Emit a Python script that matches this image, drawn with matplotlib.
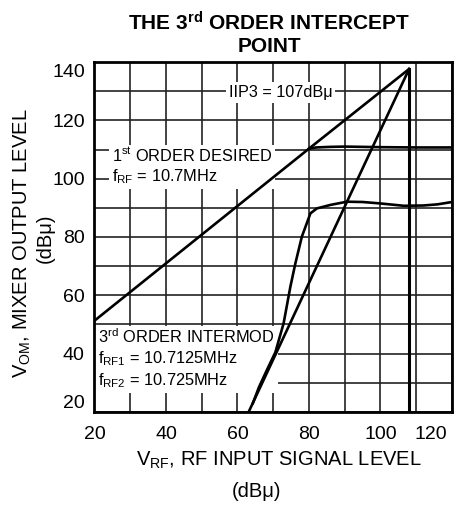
import matplotlib
matplotlib.use('Agg')
import matplotlib.pyplot as plt
import matplotlib.transforms as mtransforms
from matplotlib.ticker import MultipleLocator

plt.rcParams['font.family'] = ['Liberation Sans', 'DejaVu Sans']
plt.rcParams['mathtext.fontset'] = 'custom'
plt.rcParams['mathtext.rm'] = 'Liberation Sans'
plt.rcParams['mathtext.bf'] = 'Liberation Sans:bold'
plt.rcParams['mathtext.it'] = 'Liberation Sans:italic'

# 1st order desired output (measured)
desired_x = [20, 80, 82, 86, 90, 100, 110, 120]
desired_y = [51.3, 110.3, 110.7, 110.9, 111.0, 110.8, 110.7, 110.7]

# 3rd order intermod output (measured)
intermod_x = [64.3, 66, 68, 70.6, 72.9, 74.8, 76.2, 78.0, 80.4, 82.2, 86, 90.6, 95, 100, 106.5, 112, 116, 120]
intermod_y = [23.0, 28.5, 33.8, 40.5, 50.4, 63.0, 71.0, 80.1, 88.1, 89.8, 91.0, 92.1, 92.0, 91.5, 90.7, 90.8, 91.2, 92.0]

# extrapolated lines meeting at the intercept point
iip3_x = 108
iip3_y = 137.6
ext1_x = [80, iip3_x]
ext1_y = [110.3, iip3_y]
ext3_x = [62.2, iip3_x]
ext3_y = [17.6, iip3_y]

x_ticks = [20, 40, 60, 80, 100, 120]
y_ticks = [20, 40, 60, 80, 100, 120, 140]

fig = plt.figure(figsize=(4.6, 5.07), dpi=100)
ax = fig.add_axes([0.2054, 0.1874, 0.7772, 0.6903])

ax.set_xlim(20, 120)
ax.set_ylim(20, 140)
ax.set_xticks(x_ticks)
ax.set_yticks(y_ticks)
ax.xaxis.set_minor_locator(MultipleLocator(10))
ax.yaxis.set_minor_locator(MultipleLocator(10))
ax.grid(which='both', color='#222222', linewidth=1.2, zorder=0)
ax.set_axisbelow(True)
ax.tick_params(which='both', length=0, labelsize=14)
ax.tick_params(axis='x', pad=10)
ax.tick_params(axis='y', pad=7)
for s in ax.spines.values():
    s.set_linewidth(2.0)

# end labels are tucked inside the frame
xl = ax.get_xticklabels()
xl[-1].set_horizontalalignment('right')
xl[-1].set_transform(xl[-1].get_transform() + mtransforms.ScaledTranslation(-5 / 100, 0, fig.dpi_scale_trans))
yl = ax.get_yticklabels()
yl[0].set_verticalalignment('bottom')
yl[-1].set_verticalalignment('top')
yl[-1].set_transform(yl[-1].get_transform() + mtransforms.ScaledTranslation(0, -2 / 100, fig.dpi_scale_trans))

lw = 1.9
ax.plot(desired_x, desired_y, color='black', lw=lw, zorder=3)
ax.plot(intermod_x, intermod_y, color='black', lw=lw, zorder=3)
ax.plot(ext1_x, ext1_y, color='black', lw=lw, zorder=3)
ax.plot(ext3_x, ext3_y, color='black', lw=lw, zorder=3)
ax.plot([iip3_x, iip3_x], [18, iip3_y], color='black', lw=2.2, zorder=3)

box = dict(facecolor='white', edgecolor='none', pad=2)
ax.text(72, 129.5, 'IIP3 = 107dB\u03bc', fontsize=11.7, ha='center', va='center',
        bbox=box, zorder=2)
ax.text(24.8, 111.3, '1$^{\\mathregular{st}}$ ORDER DESIRED\nf$_{\\mathregular{RF}}$ = 10.7MHz',
        fontsize=11.8, ha='left', va='top', linespacing=1.25, bbox=box, zorder=2)
ax.text(21, 49.2, '3$^{\\mathregular{rd}}$ ORDER INTERMOD\nf$_{\\mathregular{RF1}}$ = 10.7125MHz\nf$_{\\mathregular{RF2}}$ = 10.725MHz',
        fontsize=11.8, ha='left', va='top', linespacing=1.25, bbox=box, zorder=2)

fig.text(0.585, 0.933, 'THE 3$^{\\mathbf{rd}}$ ORDER INTERCEPT\nPOINT', fontsize=15,
         fontweight='bold', ha='center', va='center', linespacing=1.15)
fig.text(0.048, 0.5207, 'V$_{\\mathregular{OM}}$, MIXER OUTPUT LEVEL', fontsize=14.5,
         rotation=90, ha='center', va='center')
fig.text(0.098, 0.5306, '(dB\u03bc)', fontsize=14.5, rotation=90, ha='center', va='center')
fig.text(0.607, 0.092, 'V$_{\\mathregular{RF}}$, RF INPUT SIGNAL LEVEL', fontsize=14.5,
         ha='center', va='center')
fig.text(0.558, 0.030, '(dB\u03bc)', fontsize=14.5, ha='center', va='center')

fig.savefig('out.png', dpi=100)
